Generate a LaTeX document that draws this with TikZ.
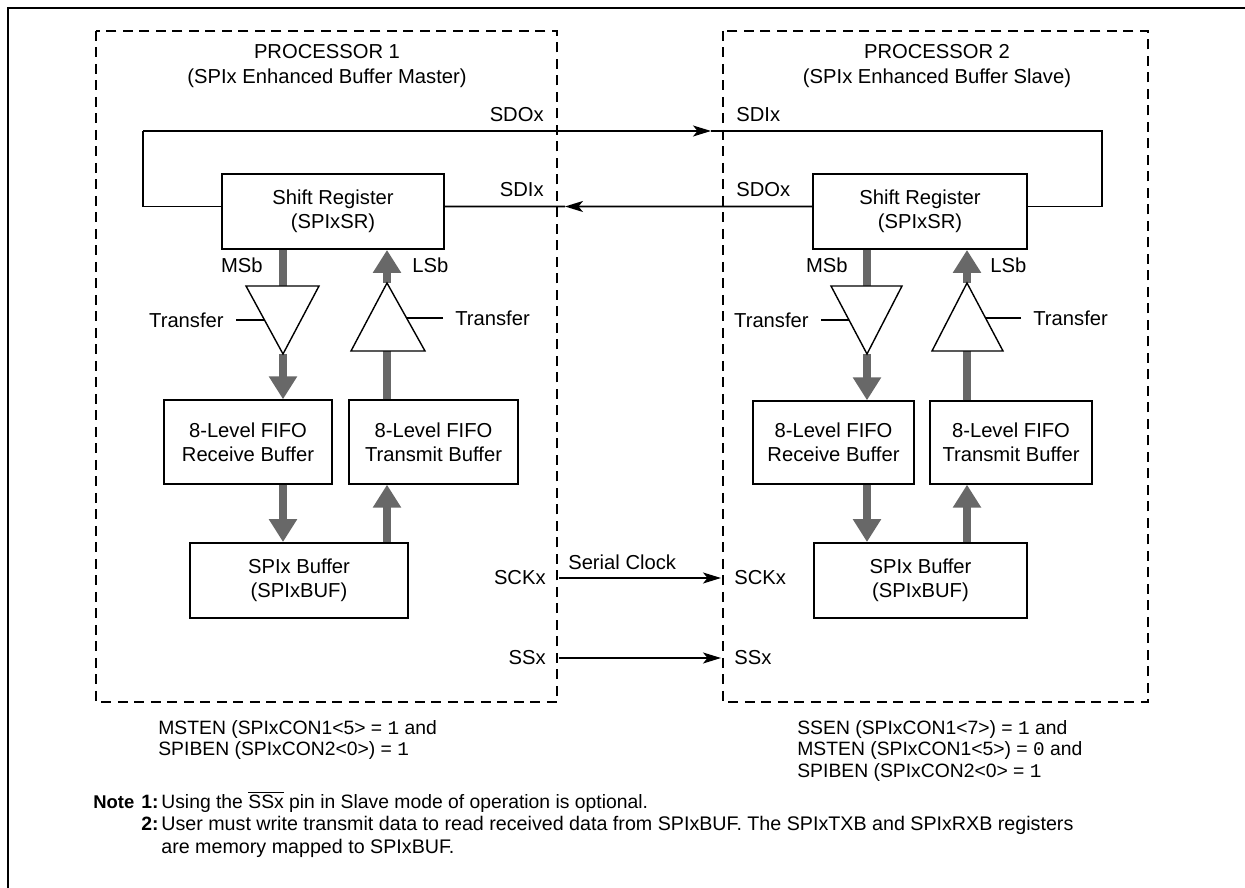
\documentclass[tikz,border=0pt]{standalone}
\usepackage{fontspec}
\setmainfont{Liberation Sans}
\setmonofont{Liberation Mono}
\usetikzlibrary{arrows.meta,positioning}
\definecolor{busgray}{RGB}{104,104,104}

\tikzset{
  regbox/.style={draw, line width=1.1pt, align=center, inner sep=0pt},
  fifobox/.style={draw, line width=0.8pt, align=center, inner sep=0pt},
  procbox/.style={draw, line width=1.1pt, dash pattern=on 2mm off 1.3mm},
  bus/.style={busgray, line width=1.6mm, -{Triangle[width=5.4mm,length=4.6mm]}},
  busline/.style={busgray, line width=1.6mm},
  sig/.style={line width=0.9pt},
  sigarrow/.style={line width=0.9pt, -{Stealth[length=3.6mm,width=2.2mm,inset=0.9mm]}},
  pin/.style={inner xsep=2.6mm, inner ysep=0pt},
  tlabel/.style={inner xsep=2.4mm, inner ysep=0pt},
  bitlabel/.style={inner xsep=1mm, inner ysep=0pt},
  buffer/.style={draw, line width=0.8pt, fill=white},
  cfgtext/.style={align=left, inner sep=0pt, font=\fontsize{11}{12.3}\selectfont},
}

\begin{document}
\begin{tikzpicture}[x=0.02cm, y=-0.02cm, font=\fontsize{11.5}{13.5}\selectfont]
    \useasboundingbox (0,0) rectangle (1245,888);

    % Outer frame
    \draw[line width=1.7pt] (8,888) -- (8,8) -- (1245,8);

    % Processor outlines
    \draw[procbox] (96,31) rectangle (557,702);
    \draw[procbox] (723,31) rectangle (1148,702);
    \node[align=center, font=\fontsize{11.5}{14.2}\selectfont] (titleA) at (327,66) {PROCESSOR 1\\(SPIx Enhanced Buffer Master)};
    \node[align=center, font=\fontsize{11.5}{14.2}\selectfont] (titleB) at (937,66) {PROCESSOR 2\\(SPIx Enhanced Buffer Slave)};

    % Processor 1 (master)
    \begin{scope}
      % Blocks
      \node[regbox, minimum width=4.44cm, minimum height=1.5cm] (srA) at (333,211.5) {Shift Register\\(SPIxSR)};
      \node[fifobox, minimum width=3.36cm, minimum height=1.68cm] (rxA) at (248,442) {8-Level FIFO\\Receive Buffer};
      \node[fifobox, minimum width=3.38cm, minimum height=1.68cm] (txA) at (433.5,442) {8-Level FIFO\\Transmit Buffer};
      \node[regbox, minimum width=4.36cm, minimum height=1.5cm] (bufA) at (299,580.5) {SPIx Buffer\\(SPIxBUF)};

      % Transfer gates
      \coordinate (rxTopA) at (283,286);
      \coordinate (rxTipA) at (283,354);
      \coordinate (rxSideA) at (264,320);
      \coordinate (txBaseA) at (387,351);
      \coordinate (txTipA) at (387,283);
      \coordinate (txSideA) at (407,318);

      % Data paths
      \draw[busline] (rxTopA |- srA.south) -- (rxTopA);
      \draw[bus] (rxTipA) -- (rxTipA |- rxA.north);
      \draw[bus] (rxTipA |- rxA.south) -- (rxTipA |- bufA.north);
      \draw[busline] (txBaseA |- txA.north) -- (txBaseA);
      \draw[bus] (txTipA) -- (txTipA |- srA.south);
      \draw[bus] (txBaseA |- bufA.north) -- (txBaseA |- txA.south);

      \draw[buffer] (246,286) -- (319,286) -- (rxTipA) -- cycle;
      \draw[buffer] (351,351) -- (425,351) -- (txTipA) -- cycle;

      % Labels
      \node[bitlabel, anchor=east] (msbA) at (268,265) {MSb};
      \node[bitlabel, anchor=west] (lsbA) at (407,265) {LSb};
      \node[tlabel, anchor=east] (trfRxA) at (236,320) {Transfer};
      \node[tlabel, anchor=west] (trfTxA) at (443,318) {Transfer};
      \draw[sig] (trfRxA) -- (rxSideA);
      \draw[sig] (trfTxA) -- (txSideA);

      \node[pin, anchor=east] (sdoA) at (557,115) {SDOx};
      \node[pin, anchor=east] (sdiA) at (557,190) {SDIx};
      \node[pin, anchor=east] (sckA) at (559,578) {SCKx};
      \node[pin, anchor=east] (ssA) at (559,658) {SSx};
    \end{scope}

    % Processor 2 (slave)
    \begin{scope}
      % Blocks
      \node[regbox, minimum width=4.28cm, minimum height=1.5cm] (srB) at (920,211.5) {Shift Register\\(SPIxSR)};
      \node[fifobox, minimum width=3.22cm, minimum height=1.66cm] (rxB) at (833.5,442.5) {8-Level FIFO\\Receive Buffer};
      \node[fifobox, minimum width=3.24cm, minimum height=1.66cm] (txB) at (1011,442.5) {8-Level FIFO\\Transmit Buffer};
      \node[regbox, minimum width=4.26cm, minimum height=1.5cm] (bufB) at (920.5,580.5) {SPIx Buffer\\(SPIxBUF)};

      % Transfer gates
      \coordinate (rxTopB) at (867,286);
      \coordinate (rxTipB) at (867,354);
      \coordinate (rxSideB) at (849,320);
      \coordinate (txBaseB) at (967,351);
      \coordinate (txTipB) at (967,283);
      \coordinate (txSideB) at (985,318);

      % Data paths
      \draw[busline] (rxTopB |- srB.south) -- (rxTopB);
      \draw[bus] (rxTipB) -- (rxTipB |- rxB.north);
      \draw[bus] (rxTipB |- rxB.south) -- (rxTipB |- bufB.north);
      \draw[busline] (txBaseB |- txB.north) -- (txBaseB);
      \draw[bus] (txTipB) -- (txTipB |- srB.south);
      \draw[bus] (txBaseB |- bufB.north) -- (txBaseB |- txB.south);

      \draw[buffer] (831,286) -- (902,286) -- (rxTipB) -- cycle;
      \draw[buffer] (932,351) -- (1003,351) -- (txTipB) -- cycle;

      % Labels
      \node[bitlabel, anchor=east] (msbB) at (853,265) {MSb};
      \node[bitlabel, anchor=west] (lsbB) at (985,265) {LSb};
      \node[tlabel, anchor=east] (trfRxB) at (821,320) {Transfer};
      \node[tlabel, anchor=west] (trfTxB) at (1021,318) {Transfer};
      \draw[sig] (trfRxB) -- (rxSideB);
      \draw[sig] (trfTxB) -- (txSideB);

      \node[pin, anchor=west] (sdiB) at (723,115) {SDIx};
      \node[pin, anchor=west] (sdoB) at (723,190) {SDOx};
      \node[pin, anchor=west] (sckB) at (721,578) {SCKx};
      \node[pin, anchor=west] (ssB) at (721,658) {SSx};
    \end{scope}

    % Serial links
    \coordinate (loopA) at (143,131);
    \coordinate (loopB) at (1102,131);
    \coordinate (tipSDI) at (711,131);
    \coordinate (tipSDO) at (565,206.5);
    \draw[sig] ([yshift=1mm]srA.west) -| (loopA);
    \draw[sigarrow] (loopA) -- (tipSDI);
    \draw[sig] (tipSDI) -- (loopB) |- ([yshift=1mm]srB.east);
    \draw[sigarrow] ([yshift=1mm]srB.west) -- (tipSDO);
    \draw[sig] (tipSDO) -- ([yshift=1mm]srA.east);

    \draw[sigarrow] (sckA) -- (sckB) node[pos=0.39, above=1pt] (serclk) {Serial Clock};
    \draw[sigarrow] (ssA) -- (ssB);

    % Mode settings
    \node[cfgtext, anchor=north west] (cfgA) at (158,720) {MSTEN (SPIxCON1<5> = \texttt{1} and\\SPIBEN (SPIxCON2<0>) = \texttt{1}};
    \node[cfgtext, anchor=north west] (cfgB) at (797,720) {SSEN (SPIxCON1<7>) = \texttt{1} and\\MSTEN (SPIxCON1<5>) = \texttt{0} and\\SPIBEN (SPIxCON2<0> = \texttt{1}};

    % Notes
    \node[cfgtext, anchor=base west, font=\fontsize{10.5}{12}\selectfont] (noteHd) at (93,808) {\textbf{Note}};
    \node[cfgtext, anchor=base west] (noteNo1) at (141,808) {\textbf{1:}};
    \node[cfgtext, anchor=base west] (note1) at (161,808) {Using the $\overline{\hbox{SSx}}$ pin in Slave mode of operation is optional.};
    \node[cfgtext, anchor=base west] (noteNo2) at (141,830) {\textbf{2:}};
    \node[cfgtext, anchor=north west, font=\fontsize{11.2}{13.1}\selectfont] (note2) at (161,816) {User must write transmit data to read received data from SPIxBUF. The SPIxTXB and SPIxRXB registers\\are memory mapped to SPIxBUF.};
\end{tikzpicture}
\end{document}
